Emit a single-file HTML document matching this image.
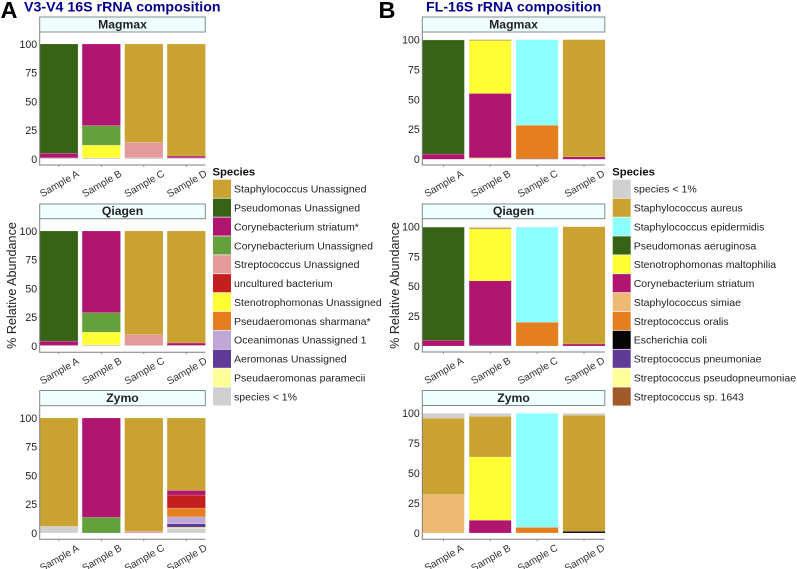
<!DOCTYPE html>
<html>
<head>
<meta charset="utf-8">
<style>
html,body{margin:0;padding:0;background:#fff;}
svg{display:block;font-family:"Liberation Sans",sans-serif;}
</style>
</head>
<body>
<svg id="fig" width="797" height="569" viewBox="0 0 797 569" xmlns="http://www.w3.org/2000/svg">
<text x="0.5" y="18" font-size="23.5" font-weight="bold" fill="#000">A</text>
<text x="24" y="11.5" font-size="14.2" font-weight="bold" fill="#00008b">V3-V4 16S rRNA composition</text>
<text x="378.5" y="18" font-size="23.5" font-weight="bold" fill="#000">B</text>
<text x="426" y="11.5" font-size="14.2" font-weight="bold" fill="#00008b">FL-16S rRNA composition</text>
<text transform="translate(16,285.5) rotate(-90)" text-anchor="middle" font-size="12.6" fill="#222">% Relative Abundance</text>
<text transform="translate(399,285.5) rotate(-90)" text-anchor="middle" font-size="12.6" fill="#222">% Relative Abundance</text>
</svg>
<script>
const categories = ['Sample A','Sample B','Sample C','Sample D'];
const yTicks = [0,25,50,75,100];

const speciesA = ['Staphylococcus Unassigned','Pseudomonas Unassigned','Corynebacterium striatum*','Corynebacterium Unassigned','Streptococcus Unassigned','uncultured bacterium','Stenotrophomonas Unassigned','Pseudaeromonas sharmana*','Oceanimonas Unassigned 1','Aeromonas Unassigned','Pseudaeromonas paramecii','species < 1%'];
const speciesB = ['species < 1%','Staphylococcus aureus','Staphylococcus epidermidis','Pseudomonas aeruginosa','Stenotrophomonas maltophilia','Corynebacterium striatum','Staphylococcus simiae','Streptococcus oralis','Escherichia coli','Streptococcus pneumoniae','Streptococcus pseudopneumoniae','Streptococcus sp. 1643'];

/* each row = one sample, each column = one species (legend order) */
const aMagmax = [
  [0,95,4,0,0,0,0,0,0,0,0,1],
  [0,0,71,17,0,0,11,0,0,0,0,1],
  [85.5,0,0,0,13.5,0,0,0,0,0,0,1],
  [97.4,0,1.6,0,0,0,0,0,0,0,0,1]
];
const aQiagen = [
  [0,95.7,3.8,0,0,0,0,0,0,0,0,0.5],
  [0,0,71,17,0,0,11,0,0,0,0,1],
  [90,0,0,0,9.5,0,0,0,0,0,0,0.5],
  [97.4,0,2,0,0,0,0,0,0,0,0,0.6]
];
const aZymo = [
  [94.2,0,0,0,0,0,0,0,0,0,0,5.8],
  [0,0,86.4,13.6,0,0,0,0,0,0,0,0],
  [98.3,0,0,0,1.7,0,0,0,0,0,0,0],
  [63,0,4,0,0,11.3,0,7.7,6,3,1,4]
];
const bMagmax = [
  [0.3,0,0,95.3,0,4.4,0,0,0,0,0,0],
  [0,1,0,0,44,53.7,0,0,0,0.3,1,0],
  [0,0,71.5,0,0,0,0,27.5,0,0,0,1],
  [0,98,0,0,0,2,0,0,0,0,0,0]
];
const bQiagen = [
  [0.3,0,0,95,0,4.7,0,0,0,0,0,0],
  [1,1,0,0,43.4,53.8,0,0,0,0.8,0,0],
  [0.5,0,79.5,0,0,0,0,20,0,0,0,0],
  [0,98.3,0,0,0,1.7,0,0,0,0,0,0]
];
const bZymo = [
  [4,64,0,0,0,0,32,0,0,0,0,0],
  [2.5,34,0,0,52.8,10.7,0,0,0,0,0,0],
  [0,0,95.3,0,0,0,0,4.7,0,0,0,0],
  [1.5,97,0,0,0,0,0,0,1.5,0,0,0]
];

const coloursA = ['#c9a231','#376315','#b01570','#64a03c','#e59a9a','#c41f1f','#ffff33','#e57e1e','#bfa8d6','#5f3a96','#ffff99','#d0d0d0'];
const coloursB = ['#d0d0d0','#c9a231','#8cffff','#376315','#ffff33','#b01570','#edba73','#e57e1e','#050505','#5f3a96','#ffff99','#a05a2c'];

const svg = document.getElementById('fig');
const NS = 'http://www.w3.org/2000/svg';

function make(tag, attrs, text) {
  const el = document.createElementNS(NS, tag);
  for (const k in attrs) el.setAttribute(k, attrs[k]);
  if (text !== undefined) el.textContent = text;
  svg.appendChild(el);
  return el;
}

function drawPanel(p) {
  const y = v => p.y0 - (v / 100) * (p.y0 - p.y100);
  const xCenter = i => p.firstCenter + i * p.step;

  const strip = make('rect', {x:p.left, y:p.stripTop, width:p.right-p.left, height:p.stripBottom-p.stripTop, fill:'#f0ffff', stroke:'#7f8c8d', 'stroke-width':1});
  
  
  const stripLabel = make('text', {x:(p.left+p.right)/2, y:p.stripBottom-3.6, 'text-anchor':'middle', 'font-size':12.2, 'font-weight':'bold', fill:'#222'}, p.title);
  
  

  p.rows.forEach((row, s) => {
    let cum = 0;
    for (let k = row.length - 1; k >= 0; k--) {
      const v = row[k];
      if (v <= 0) continue;
      const top = y(cum + v), bottom = y(cum);
      const bar = make('rect', {x:xCenter(s)-p.barW/2, y:top, width:p.barW, height:bottom-top, fill:p.colours[k], stroke:'#fff', 'stroke-width':0.25, 'stroke-opacity':0.6});
      
      
      cum += v;
    }
  });

  const axisY = make('line', {x1:p.left, x2:p.left, y1:p.stripBottom, y2:p.axisBottom, stroke:'#7f7f7f', 'stroke-width':1});
  
  
  const axisX = make('line', {x1:p.left-0.5, x2:p.right, y1:p.axisBottom, y2:p.axisBottom, stroke:'#7f7f7f', 'stroke-width':1});
  
  

  yTicks.forEach(t => {
    const lab = make('text', {x:p.left-2.5, y:y(t)+3.8, 'text-anchor':'end', 'font-size':10.6, fill:'#222'}, String(t));
    
    
  });

  categories.forEach((c, i) => {
    const tick = make('line', {x1:xCenter(i), x2:xCenter(i), y1:p.axisBottom, y2:p.axisBottom+2, stroke:'#7f7f7f', 'stroke-width':0.8});
    
    
    const lab = make('text', {transform:'translate('+(xCenter(i)+0.5)+','+(p.axisBottom+18.5)+') rotate(-30)', y:3.5, 'text-anchor':'middle', 'font-size':10.1, fill:'#333'}, c);
    
    
  });
}

function drawLegend(names, colours, id, left) {
  const title = make('text', {x:left-0.5, y:175.7, 'font-size':11.3, 'font-weight':'bold', fill:'#111'}, 'Species');
  
  
  names.forEach((n, i) => {
    const top = 179.7 + i * 18.88;
    const sw = make('rect', {x:left, y:top, width:18, height:18.2, fill:colours[i]});
    
    
    const lab = make('text', {x:left+21, y:top+13, 'font-size':10.55, fill:'#222'}, n);
    
    
  });
}

const geomA = {left:39.7, right:205.3, firstCenter:58.8, step:42.5, barW:38.4, colours:coloursA};
const geomB = {left:422.3, right:604.8, firstCenter:443.3, step:46.9, barW:42.2, colours:coloursB};

drawPanel(Object.assign({id:'a-magmax', title:'Magmax', rows:aMagmax, stripTop:17, stripBottom:32, y100:44, y0:159, axisBottom:165}, geomA));
drawPanel(Object.assign({id:'a-qiagen', title:'Qiagen', rows:aQiagen, stripTop:204, stripBottom:218.7, y100:231, y0:346, axisBottom:352.3}, geomA));
drawPanel(Object.assign({id:'a-zymo', title:'Zymo', rows:aZymo, stripTop:390.5, stripBottom:405.7, y100:418, y0:533, axisBottom:539.3}, geomA));
drawPanel(Object.assign({id:'b-magmax', title:'Magmax', rows:bMagmax, stripTop:17, stripBottom:32, y100:39.6, y0:159.3, axisBottom:165}, geomB));
drawPanel(Object.assign({id:'b-qiagen', title:'Qiagen', rows:bQiagen, stripTop:204, stripBottom:218.7, y100:226.7, y0:346, axisBottom:352}, geomB));
drawPanel(Object.assign({id:'b-zymo', title:'Zymo', rows:bZymo, stripTop:390.5, stripBottom:405.5, y100:413.3, y0:533, axisBottom:539.3}, geomB));

drawLegend(speciesA, coloursA, 'panel-a', 213);
drawLegend(speciesB, coloursB, 'panel-b', 612.7);
</script>
</body>
</html>
